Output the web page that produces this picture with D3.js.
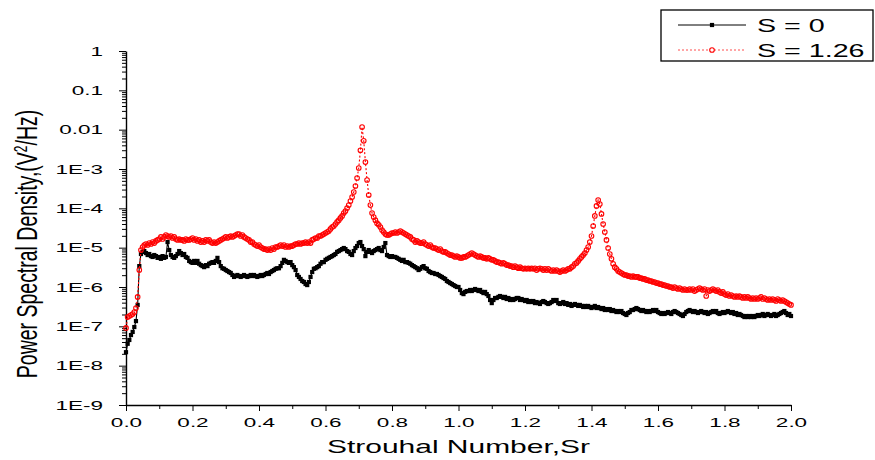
<!DOCTYPE html>
<html><head><meta charset="utf-8">
<script src="https://cdn.jsdelivr.net/npm/d3@7"></script>
<style>
html,body{margin:0;padding:0;background:#fff;}
svg{display:block;font-family:"Liberation Sans",Arial,Helvetica,sans-serif;}
</style>
</head><body>
<svg id="chart" width="875" height="460"></svg>
<script>
// ---------------- data ----------------
const seriesNames = ["S = 0", "S = 1.26"];
const xTickValues = [0, 0.2, 0.4, 0.6, 0.8, 1.0, 1.2, 1.4, 1.6, 1.8, 2.0];
const xTickLabels = ["0.0","0.2","0.4","0.6","0.8","1.0","1.2","1.4","1.6","1.8","2.0"];
const yTickValues = [1e-9,1e-8,1e-7,1e-6,1e-5,1e-4,1e-3,1e-2,1e-1,1];
const yTickLabels = ["1E-9","1E-8","1E-7","1E-6","1E-5","1E-4","1E-3","0.01","0.1","1"];
const xTitle = "Strouhal Number,Sr";
const srStep = 0.005; // frequency-bin spacing in Strouhal number

// S = 0 (black), one value per bin from Sr = 0 to 2.0
const psdS0 = [
2.2e-8,3.6e-8,4.5e-8,6.0e-8,7.2e-8,9.6e-8,1.36e-7,3.5e-7,3.4e-6,6.9e-6,7.8e-6,8.2e-6,7.3e-6,6.5e-6,6.9e-6,6.1e-6,5.8e-6,6.5e-6,6.1e-6,5.5e-6,
5.8e-6,5.2e-6,6.1e-6,5.5e-6,5.8e-6,1.39e-5,8.7e-6,6.5e-6,5.8e-6,5.5e-6,6.1e-6,6.9e-6,8.2e-6,7.3e-6,6.5e-6,6.9e-6,5.8e-6,5.5e-6,4.6e-6,4.3e-6,
4.1e-6,4.6e-6,4.1e-6,4.6e-6,3.9e-6,3.6e-6,3.4e-6,3.2e-6,3.6e-6,3.4e-6,3.9e-6,4.1e-6,4.3e-6,4.1e-6,4.6e-6,5.5e-6,4.3e-6,3.4e-6,3.0e-6,2.9e-6,
2.7e-6,2.55e-6,2.4e-6,2.27e-6,2.02e-6,1.8e-6,1.9e-6,2.02e-6,1.9e-6,1.8e-6,1.9e-6,2.02e-6,1.9e-6,1.8e-6,1.9e-6,2.02e-6,1.9e-6,2.02e-6,1.9e-6,1.8e-6,
1.9e-6,2.02e-6,1.9e-6,2.02e-6,2.14e-6,2.27e-6,2.14e-6,2.4e-6,2.55e-6,2.7e-6,2.9e-6,3.0e-6,3.0e-6,3.4e-6,4.1e-6,4.9e-6,4.6e-6,4.3e-6,4.1e-6,4.3e-6,
3.6e-6,3.2e-6,2.7e-6,2.02e-6,1.8e-6,1.6e-6,1.42e-6,1.34e-6,1.19e-6,1.12e-6,1.34e-6,1.8e-6,2.4e-6,2.9e-6,3.0e-6,3.2e-6,3.4e-6,3.9e-6,4.3e-6,4.3e-6,
4.9e-6,5.2e-6,5.5e-6,5.8e-6,6.1e-6,6.5e-6,6.9e-6,7.8e-6,8.2e-6,8.7e-6,9.2e-6,9.8e-6,9.2e-6,8.2e-6,7.8e-6,6.9e-6,6.5e-6,8.2e-6,9.8e-6,1.1e-5,
1.31e-5,1.39e-5,1.1e-5,9.2e-6,6.1e-6,7.8e-6,8.7e-6,7.8e-6,7.3e-6,8.2e-6,8.7e-6,9.2e-6,9.8e-6,8.7e-6,8.2e-6,1.04e-5,1.31e-5,6.5e-6,6.1e-6,5.8e-6,
6.1e-6,5.8e-6,5.8e-6,5.5e-6,5.2e-6,4.9e-6,4.6e-6,4.9e-6,4.3e-6,4.3e-6,4.1e-6,3.9e-6,3.6e-6,3.4e-6,3.2e-6,3.0e-6,2.7e-6,2.9e-6,3.2e-6,3.4e-6,
3.0e-6,2.9e-6,2.55e-6,2.4e-6,2.27e-6,2.27e-6,2.14e-6,2.14e-6,2.02e-6,1.9e-6,1.8e-6,1.69e-6,1.6e-6,1.42e-6,1.34e-6,1.26e-6,1.19e-6,1.12e-6,1.06e-6,1.0e-6,
1.0e-6,8.4e-7,7.0e-7,6.6e-7,7.5e-7,7.9e-7,7.9e-7,8.4e-7,7.9e-7,8.4e-7,8.9e-7,8.4e-7,7.9e-7,8.4e-7,7.5e-7,7.0e-7,7.5e-7,6.6e-7,5.9e-7,4.67e-7,
3.9e-7,4.67e-7,5.25e-7,5.25e-7,5.6e-7,5.9e-7,5.6e-7,5.25e-7,5.6e-7,4.95e-7,5.25e-7,4.67e-7,4.95e-7,4.67e-7,4.95e-7,5.25e-7,5.25e-7,4.67e-7,4.95e-7,4.67e-7,
4.4e-7,4.67e-7,4.15e-7,4.4e-7,4.15e-7,4.4e-7,3.9e-7,4.15e-7,3.9e-7,3.7e-7,4.15e-7,4.4e-7,4.15e-7,3.9e-7,3.7e-7,3.9e-7,4.15e-7,4.67e-7,4.4e-7,4.67e-7,
3.9e-7,3.7e-7,3.9e-7,4.15e-7,3.7e-7,3.9e-7,3.5e-7,3.7e-7,3.3e-7,3.5e-7,3.7e-7,3.5e-7,3.3e-7,3.5e-7,3.3e-7,3.1e-7,3.3e-7,3.1e-7,3.3e-7,3.1e-7,
2.92e-7,3.1e-7,3.3e-7,2.92e-7,3.1e-7,2.92e-7,2.75e-7,2.92e-7,2.6e-7,2.75e-7,2.6e-7,2.75e-7,2.45e-7,2.6e-7,2.45e-7,2.31e-7,2.45e-7,2.31e-7,2.45e-7,2.18e-7,
2.06e-7,1.94e-7,2.18e-7,2.31e-7,2.6e-7,2.6e-7,2.75e-7,2.92e-7,2.75e-7,2.6e-7,2.45e-7,2.6e-7,2.45e-7,2.31e-7,2.45e-7,2.31e-7,2.45e-7,2.6e-7,2.45e-7,2.6e-7,
2.31e-7,2.18e-7,2.06e-7,2.18e-7,2.06e-7,2.18e-7,2.31e-7,2.18e-7,2.06e-7,2.31e-7,2.45e-7,2.31e-7,2.18e-7,2.06e-7,1.94e-7,1.83e-7,2.06e-7,2.31e-7,2.45e-7,2.6e-7,
2.45e-7,2.31e-7,2.45e-7,2.31e-7,2.18e-7,2.31e-7,2.45e-7,2.31e-7,2.18e-7,2.31e-7,2.06e-7,2.18e-7,2.31e-7,2.45e-7,2.31e-7,2.45e-7,2.18e-7,2.06e-7,2.18e-7,2.31e-7,
2.18e-7,2.31e-7,2.45e-7,2.31e-7,2.18e-7,2.31e-7,2.06e-7,2.18e-7,1.94e-7,2.06e-7,1.94e-7,1.83e-7,1.72e-7,1.83e-7,1.72e-7,1.83e-7,1.72e-7,1.83e-7,1.72e-7,1.83e-7,
1.94e-7,1.83e-7,1.94e-7,2.06e-7,1.83e-7,1.94e-7,2.06e-7,1.94e-7,1.83e-7,1.94e-7,2.06e-7,1.83e-7,1.94e-7,2.06e-7,2.18e-7,2.31e-7,2.45e-7,2.18e-7,1.94e-7,2.06e-7,
1.83e-7
];

// S = 1.26 (red), same bins
const psdS126 = [
9.1e-8,1.72e-7,1.83e-7,1.94e-7,2.06e-7,2.31e-7,2.92e-7,5.6e-7,2.7e-6,8.7e-6,1.04e-5,1.17e-5,1.24e-5,1.17e-5,1.31e-5,1.24e-5,1.39e-5,1.31e-5,1.48e-5,1.57e-5,
1.66e-5,1.87e-5,1.66e-5,1.87e-5,2.1e-5,1.98e-5,1.87e-5,1.98e-5,1.76e-5,1.87e-5,1.66e-5,1.57e-5,1.66e-5,1.57e-5,1.57e-5,1.48e-5,1.66e-5,1.57e-5,1.57e-5,1.66e-5,
1.76e-5,1.57e-5,1.66e-5,1.48e-5,1.57e-5,1.39e-5,1.48e-5,1.39e-5,1.57e-5,1.48e-5,1.57e-5,1.39e-5,1.31e-5,1.39e-5,1.31e-5,1.39e-5,1.48e-5,1.57e-5,1.66e-5,1.76e-5,
1.87e-5,1.76e-5,1.87e-5,1.98e-5,1.87e-5,1.98e-5,2.1e-5,2.22e-5,2.22e-5,1.98e-5,2.1e-5,1.87e-5,1.76e-5,1.66e-5,1.57e-5,1.39e-5,1.39e-5,1.24e-5,1.17e-5,1.1e-5,
1.17e-5,1.04e-5,9.8e-6,9.2e-6,9.2e-6,8.7e-6,9.2e-6,8.7e-6,9.8e-6,9.2e-6,1.04e-5,1.04e-5,1.1e-5,1.17e-5,1.1e-5,1.17e-5,1.04e-5,1.1e-5,1.04e-5,1.1e-5,
1.1e-5,1.17e-5,1.24e-5,1.24e-5,1.31e-5,1.24e-5,1.31e-5,1.31e-5,1.39e-5,1.31e-5,1.39e-5,1.31e-5,1.57e-5,1.66e-5,1.76e-5,1.76e-5,1.98e-5,1.98e-5,2.1e-5,2.22e-5,
2.36e-5,2.5e-5,2.65e-5,3.0e-5,3.35e-5,3.55e-5,4.0e-5,4.5e-5,5.0e-5,5.7e-5,6.4e-5,7.6e-5,8.5e-5,1.02e-4,1.21e-4,1.53e-4,1.94e-4,2.6e-4,3.7e-4,5.9e-4,
1.06e-3,3.0e-3,1.17e-2,5.2e-3,1.5e-3,5.25e-4,2.18e-4,1.21e-4,7.6e-5,6.0e-5,5.0e-5,4.2e-5,3.8e-5,3.35e-5,2.8e-5,2.5e-5,2.22e-5,2.1e-5,2.1e-5,2.22e-5,
2.36e-5,2.36e-5,2.5e-5,2.36e-5,2.5e-5,2.65e-5,2.5e-5,2.36e-5,2.22e-5,2.1e-5,1.98e-5,1.87e-5,1.66e-5,1.57e-5,1.39e-5,1.48e-5,1.39e-5,1.31e-5,1.31e-5,1.39e-5,
1.24e-5,1.17e-5,1.1e-5,1.17e-5,1.04e-5,9.8e-6,9.8e-6,9.2e-6,8.7e-6,9.2e-6,8.2e-6,7.8e-6,7.8e-6,7.3e-6,6.9e-6,6.5e-6,6.5e-6,6.1e-6,5.8e-6,6.1e-6,
5.8e-6,5.5e-6,5.5e-6,5.8e-6,5.8e-6,6.1e-6,6.5e-6,6.9e-6,7.3e-6,6.9e-6,6.5e-6,6.1e-6,5.8e-6,6.1e-6,5.8e-6,5.5e-6,5.5e-6,5.2e-6,5.5e-6,5.2e-6,
4.9e-6,4.9e-6,4.6e-6,4.3e-6,4.3e-6,4.1e-6,3.9e-6,4.1e-6,3.9e-6,3.6e-6,3.6e-6,3.4e-6,3.4e-6,3.2e-6,3.4e-6,3.2e-6,3.0e-6,3.2e-6,3.0e-6,2.9e-6,
3.0e-6,2.9e-6,3.0e-6,2.9e-6,3.0e-6,2.9e-6,3.0e-6,2.7e-6,2.9e-6,3.0e-6,2.9e-6,2.7e-6,2.9e-6,2.7e-6,2.9e-6,2.7e-6,2.55e-6,2.7e-6,2.55e-6,2.7e-6,
2.55e-6,2.4e-6,2.55e-6,2.7e-6,2.55e-6,2.7e-6,2.9e-6,2.9e-6,3.2e-6,3.4e-6,3.9e-6,4.1e-6,4.6e-6,5.2e-6,5.8e-6,6.5e-6,7.3e-6,8.7e-6,1.04e-5,1.39e-5,
1.98e-5,3.55e-5,6.4e-5,1.15e-4,1.63e-4,1.29e-4,7.2e-5,4.0e-5,2.5e-5,1.57e-5,9.8e-6,6.9e-6,5.2e-6,3.9e-6,3.2e-6,2.9e-6,2.55e-6,2.4e-6,2.27e-6,2.14e-6,
2.02e-6,2.02e-6,1.9e-6,1.9e-6,1.8e-6,1.9e-6,1.8e-6,1.8e-6,1.8e-6,1.69e-6,1.69e-6,1.6e-6,1.6e-6,1.5e-6,1.5e-6,1.42e-6,1.42e-6,1.34e-6,1.34e-6,1.26e-6,
1.26e-6,1.19e-6,1.19e-6,1.12e-6,1.12e-6,1.06e-6,1.06e-6,1.0e-6,1.0e-6,9.4e-7,1.0e-6,9.4e-7,8.9e-7,9.4e-7,8.9e-7,8.4e-7,8.9e-7,8.4e-7,8.4e-7,8.9e-7,
8.4e-7,8.9e-7,7.9e-7,8.4e-7,8.9e-7,9.4e-7,8.9e-7,8.4e-7,8.9e-7,5.9e-7,8.4e-7,7.9e-7,8.4e-7,8.9e-7,8.4e-7,7.9e-7,8.4e-7,7.5e-7,7.0e-7,7.5e-7,
6.6e-7,6.25e-7,6.6e-7,5.9e-7,6.25e-7,5.9e-7,5.6e-7,5.9e-7,5.6e-7,5.9e-7,5.6e-7,5.25e-7,5.6e-7,5.25e-7,5.6e-7,5.25e-7,4.95e-7,5.25e-7,4.95e-7,5.25e-7,
4.95e-7,5.25e-7,5.6e-7,4.95e-7,5.25e-7,4.95e-7,4.67e-7,4.95e-7,4.67e-7,4.95e-7,4.67e-7,4.4e-7,4.95e-7,4.67e-7,4.4e-7,4.67e-7,4.4e-7,4.15e-7,3.9e-7,3.7e-7,
3.5e-7
];

// ---------------- layout ----------------
const X0 = 126, X1 = 791, Y0 = 405, Y1 = 51;
const svg = d3.select("#chart");
const x = d3.scaleLinear().domain([0, 2]).range([X0, X1]);
const y = d3.scaleLog().domain([1e-9, 1]).range([Y0, Y1]);

const sr = d3.range(psdS0.length).map(i => +(i * srStep).toFixed(3));
const series = [
  {name: seriesNames[0], values: psdS0, color: "#000000", dash: null, marker: "square"},
  {name: seriesNames[1], values: psdS126, color: "#ff0000", dash: "2,2", marker: "circle"}
];

const TICK_SX = 1.8;
const SQ = 4.2;   // square marker size
const CR = 2.3;   // circle marker radius

// ---------------- axes ----------------
const minorY = [];
for (let e = -9; e < 0; e++) for (let m = 2; m <= 9; m++) minorY.push(m * Math.pow(10, e));
const minorX = [0.1,0.3,0.5,0.7,0.9,1.1,1.3,1.5,1.7,1.9];

const gy = svg.append("g").attr("transform", `translate(${X0},0)`)
  .call(d3.axisLeft(y).tickValues(yTickValues).tickFormat((d,i)=>yTickLabels[i]).tickSize(7).tickSizeOuter(0).tickPadding(10));
gy.append("g").call(d3.axisLeft(y).tickValues(minorY).tickFormat("").tickSize(4).tickSizeOuter(0))
  .select(".domain").remove();
gy.selectAll(".tick text").each(function(){
  const t = d3.select(this);
  const xx = +t.attr("x");
  t.attr("x", 0).attr("dy", null).attr("dominant-baseline", "central")
   .attr("transform", `translate(${xx - 6},0) scale(${TICK_SX},1)`);
});

const gx = svg.append("g").attr("transform", `translate(0,${Y0})`)
  .call(d3.axisBottom(x).tickValues(xTickValues).tickFormat((d,i)=>xTickLabels[i]).tickSize(6).tickSizeOuter(0).tickPadding(6));
gx.append("g").call(d3.axisBottom(x).tickValues(minorX).tickFormat("").tickSize(4).tickSizeOuter(0))
  .select(".domain").remove();
gx.selectAll(".tick text").each(function(){
  const t = d3.select(this);
  t.attr("y", 0).attr("dy", null)
   .attr("transform", `translate(0,22) scale(${TICK_SX},1)`);
});

svg.selectAll(".domain").attr("stroke", "#000").attr("stroke-width", 1.4);
svg.selectAll(".tick line").attr("stroke", "#000");
svg.selectAll(".tick text").attr("font-size", 12.5).attr("fill", "#000")
   .attr("font-family", "'Liberation Sans',Arial,sans-serif");

// axis titles
svg.append("text")
  .attr("transform", `translate(458.5,453) scale(1.62,1)`)
  .attr("text-anchor", "middle").attr("font-size", 18.5).attr("fill", "#000")
  .text(xTitle);

const yt = svg.append("text")
  .attr("transform", `translate(37,244) scale(1.5,1) rotate(-90)`)
  .attr("text-anchor", "middle").attr("font-size", 19.5).attr("fill", "#000");
yt.append("tspan").text("Power Spectral Density,(V");
yt.append("tspan").attr("dy", -7).attr("font-size", 12).text("2");
yt.append("tspan").attr("dy", 7).text("/Hz)");

// ---------------- series ----------------
const line = d3.line().x((d,i) => x(sr[i])).y(d => y(d));
const plot = svg.append("g");
series.forEach(s => {
  const g = plot.append("g");
  g.append("path").datum(s.values).attr("d", line)
    .attr("fill", "none").attr("stroke", s.color).attr("stroke-width", 1.1)
    .attr("stroke-dasharray", s.dash);
  if (s.marker === "square") {
    g.selectAll("rect").data(s.values).join("rect")
      .attr("x", (d,i) => x(sr[i]) - SQ/2).attr("y", d => y(d) - SQ/2)
      .attr("width", SQ).attr("height", SQ).attr("fill", s.color);
  } else {
    g.selectAll("circle").data(s.values).join("circle")
      .attr("cx", (d,i) => x(sr[i])).attr("cy", d => y(d)).attr("r", CR)
      .attr("fill", "none").attr("stroke", s.color).attr("stroke-width", 1.1);
  }
});

// ---------------- legend ----------------
const lg = svg.append("g");
lg.append("rect").attr("x", 661).attr("y", 10).attr("width", 212).attr("height", 51)
  .attr("fill", "#fff").attr("stroke", "#000").attr("stroke-width", 1.3);
const legendRows = [25, 50];
series.forEach((s, i) => {
  const ly = legendRows[i];
  lg.append("line").attr("x1", 678).attr("x2", 746).attr("y1", ly).attr("y2", ly)
    .attr("stroke", s.color).attr("stroke-width", 1).attr("stroke-dasharray", s.dash)
    .attr("stroke-opacity", s.dash ? 0.7 : 1);
  if (s.marker === "square") {
    lg.append("rect").attr("x", 712 - SQ/2).attr("y", ly - SQ/2).attr("width", SQ).attr("height", SQ).attr("fill", s.color);
  } else {
    lg.append("circle").attr("cx", 712).attr("cy", ly).attr("r", CR)
      .attr("fill", "#fff").attr("stroke", s.color).attr("stroke-width", 1.1);
  }
  lg.append("text").attr("transform", `translate(757,${ly + 6.5}) scale(1.55,1)`)
    .attr("font-size", 18.5).attr("fill", "#000").text(s.name);
});
</script>
</body></html>
